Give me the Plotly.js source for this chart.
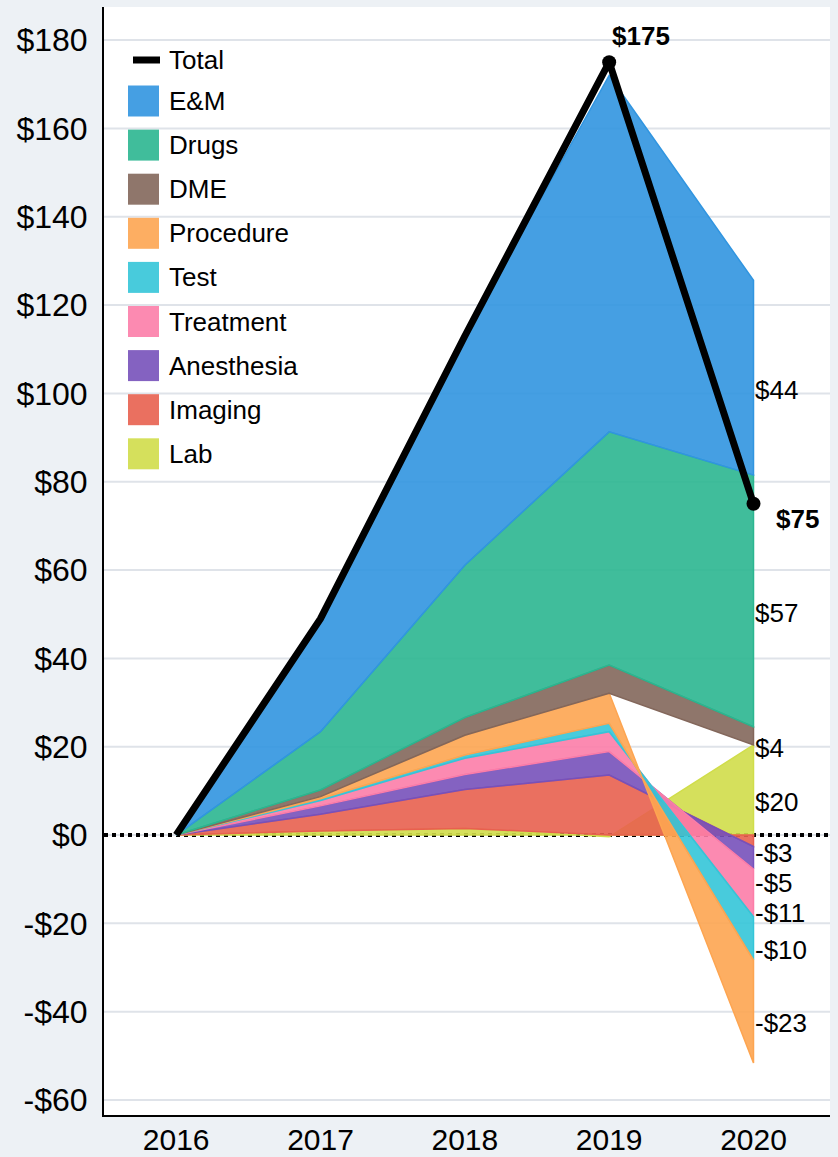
<!DOCTYPE html>
<html>
<head>
<meta charset="utf-8">
<script src="https://cdn.plot.ly/plotly-3.0.1.min.js"></script>
<style>
  html, body { margin: 0; padding: 0; background: #edf1f5; }
  #chart { width: 838px; height: 1157px; }
</style>
</head>
<body>
<div id="chart"></div>
<script>
// ---- data ----
const years = [2016, 2017, 2018, 2019, 2020];
const yearLabels = ['2016', '2017', '2018', '2019', '2020'];
// stacking order (bottom to top)
const categories = ['Lab', 'Imaging', 'Anesthesia', 'Treatment', 'Test', 'Procedure', 'DME', 'Drugs', 'E&M'];
const lab        = [0, 0.9, 1.5, -0.4, 20.4];
const imaging    = [0, 3.8, 8.8, 13.6, -2.6];
const anesthesia = [0, 1.9, 3.4, 5.3, -5.1];
const treatment  = [0, 1.2, 3.7, 4.5, -10.8];
const test       = [0, 0.4, 0.7, 1.9, -9.8];
const procedure  = [0, 0.5, 4.5, 6.8, -23.3];
const dme        = [0, 1.5, 4.0, 6.4, 4.1];
const drugs      = [0, 13.2, 34.5, 52.8, 57.0];
const em         = [0, 25.6, 52.0, 80.7, 44.1];
const total      = [0, 49, 113, 175, 75];
const yTicks = [-60, -40, -20, 0, 20, 40, 60, 80, 100, 120, 140, 160, 180];

// ---- styles ----
const series = [lab, imaging, anesthesia, treatment, test, procedure, dme, drugs, em];
const colors = ['rgb(208,221,74)', 'rgb(232,96,79)', 'rgb(119,81,186)', 'rgb(252,125,168)',
                'rgb(52,197,216)', 'rgb(253,165,81)', 'rgb(131,103,91)', 'rgb(43,182,144)', 'rgb(49,149,224)'];
const FILL_ALPHA = 0.9;
const fillOf = c => c.replace('rgb(', 'rgba(').replace(')', ',' + FILL_ALPHA + ')');
const FONT = 'Liberation Sans, Arial, sans-serif';
const GRID_COLOR = '#dfe3e9';

const fmtMoney = v => (v < 0 ? '-' : '') + '$' + Math.round(Math.abs(v));

// ---- layout geometry ----
const W = 838, H = 1157;
const M = {l: 104, r: 8, t: 7, b: 42};
const PW = W - M.l - M.r, PH = H - M.t - M.b;
const Y_RANGE = [-63.4, 187.5];
const px2x = px => (px - M.l) / PW;
const py2y = py => 1 - (py - M.t) / PH;
const unitsPerPx = (Y_RANGE[1] - Y_RANGE[0]) / PH;

// ---- stacking with separate positive / negative accumulation ----
const posAcc = years.map(() => 0);
const negAcc = years.map(() => 0);
const traces = [];
const bands = [];
series.forEach((vals, i) => {
  const base = [], top = [];
  vals.forEach((v, j) => {
    if (v >= 0) { base.push(posAcc[j]); posAcc[j] += v; top.push(posAcc[j]); }
    else { base.push(negAcc[j]); negAcc[j] += v; top.push(negAcc[j]); }
  });
  bands.push({base, top});
  traces.push({
    type: 'scatter', mode: 'lines',
    x: years.concat(years.slice().reverse()),
    y: top.concat(base.slice().reverse()),
    fill: 'toself', fillcolor: fillOf(colors[i]),
    line: {color: colors[i], width: 1.5},
    name: categories[i], hoverinfo: 'skip', showlegend: false
  });
});

// Total line with markers on peak and final year
const peakIdx = total.indexOf(Math.max(...total));
const lastIdx = total.length - 1;
traces.push({
  type: 'scatter', mode: 'lines',
  x: years, y: total, name: 'Total',
  line: {color: 'black', width: 7}, showlegend: false, hoverinfo: 'skip'
});
traces.push({
  type: 'scatter', mode: 'markers',
  x: [years[peakIdx], years[lastIdx]], y: [total[peakIdx], total[lastIdx]],
  marker: {color: 'black', size: 14}, showlegend: false, hoverinfo: 'skip'
});

const annotations = [];
const shapes = [];

// gridlines drawn as below-layer shapes so the zero line can sit above them but under the areas
yTicks.forEach(t => {
  shapes.push({type: 'line', xref: 'paper', x0: 0, x1: 1, yref: 'y', y0: t, y1: t,
    line: {color: GRID_COLOR, width: 2}, layer: 'below'});
});
shapes.push({type: 'line', xref: 'paper', x0: 0, x1: 1, yref: 'y', y0: 0, y1: 0,
  line: {color: 'black', width: 4, dash: 'dot'}, layer: 'below'});

// value labels at final year: band midpoints, pushed apart to avoid overlap
const li = years.length - 1;
const LABEL_SHIFT_PX = 12, LABEL_GAP_PX = 30;
const labels = series.map((vals, i) => ({
  text: fmtMoney(vals[li]),
  y: (bands[i].base[li] + bands[i].top[li]) / 2 - LABEL_SHIFT_PX * unitsPerPx
})).sort((a, b) => b.y - a.y);
for (let k = 1; k < labels.length; k++) {
  const maxY = labels[k - 1].y - LABEL_GAP_PX * unitsPerPx;
  if (labels[k].y > maxY) labels[k].y = maxY;
}
labels.forEach(lb => {
  annotations.push({
    x: years[li], y: lb.y, xref: 'x', yref: 'y', text: lb.text,
    showarrow: false, xanchor: 'left', yanchor: 'middle', xshift: -1,
    font: {family: FONT, size: 26, color: 'black'}
  });
});

// total labels
annotations.push({
  x: years[peakIdx], y: total[peakIdx], xref: 'x', yref: 'y', text: '<b>' + fmtMoney(total[peakIdx]) + '</b>',
  showarrow: false, xanchor: 'left', yanchor: 'bottom', xshift: 1, yshift: 9,
  font: {family: FONT, size: 26, color: 'black'}
});
annotations.push({
  x: years[lastIdx], y: total[lastIdx], xref: 'x', yref: 'y', text: '<b>' + fmtMoney(total[lastIdx]) + '</b>',
  showarrow: false, xanchor: 'left', yanchor: 'middle', xshift: 20, yshift: -15,
  font: {family: FONT, size: 26, color: 'black'}
});

// custom legend (Total first, then categories top-to-bottom)
const legendRow0 = 60, legendRow1 = 101, legendStep = 44.1;
shapes.push({type: 'line', xref: 'paper', yref: 'paper',
  x0: px2x(133), x1: px2x(160), y0: py2y(legendRow0), y1: py2y(legendRow0),
  line: {color: 'black', width: 7}});
annotations.push({xref: 'paper', yref: 'paper', x: px2x(167), y: py2y(legendRow0),
  text: 'Total', showarrow: false, xanchor: 'left', yanchor: 'middle',
  font: {family: FONT, size: 26, color: 'black'}});
const legendOrder = categories.map((c, i) => i).reverse();
legendOrder.forEach((ci, k) => {
  const cy = legendRow1 + legendStep * k;
  shapes.push({type: 'rect', xref: 'paper', yref: 'paper',
    x0: px2x(128), x1: px2x(159), y0: py2y(cy - 15.5), y1: py2y(cy + 15.5),
    fillcolor: fillOf(colors[ci]), line: {width: 0}});
  annotations.push({xref: 'paper', yref: 'paper', x: px2x(167), y: py2y(cy),
    text: categories[ci], showarrow: false, xanchor: 'left', yanchor: 'middle',
    font: {family: FONT, size: 26, color: 'black'}});
});

const layout = {
  width: W, height: H,
  margin: M,
  paper_bgcolor: '#edf1f5', plot_bgcolor: 'white',
  showlegend: false,
  xaxis: {
    range: [2015.5, 2020.53], tickvals: years, ticktext: yearLabels,
    showgrid: false, zeroline: false, showline: true, linecolor: 'black', linewidth: 2,
    ticks: '', ticklen: 0, tickfont: {family: FONT, size: 30, color: 'black'}, ticklabelstandoff: -3
  },
  yaxis: {
    range: Y_RANGE, tickvals: yTicks, ticktext: yTicks.map(fmtMoney),
    showgrid: false, zeroline: false, showline: true, linecolor: 'black', linewidth: 2,
    ticks: '', ticklen: 0, tickfont: {family: FONT, size: 32, color: 'black'}, ticklabelstandoff: 8
  },
  annotations, shapes
};

Plotly.newPlot('chart', traces, layout, {staticPlot: true, displayModeBar: false});
</script>
</body>
</html>
